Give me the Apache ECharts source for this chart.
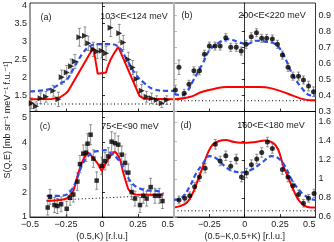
<!DOCTYPE html>
<html><head><meta charset="utf-8">
<script src="https://cdn.jsdelivr.net/npm/echarts@6/dist/echarts.min.js"></script>
<style>html,body{margin:0;padding:0;background:#fff}#c{width:334px;height:242px}</style>
</head><body><div id="c"></div>
<script>
// ---------- Panel (a): 103<E<124 meV ----------
const aK   = [-0.488,-0.458,-0.426,-0.389,-0.338,-0.303,-0.28,-0.245,-0.215,-0.188,-0.157,-0.118,-0.095,-0.06,-0.033,-0.002,0.028,0.06,0.12,0.148,0.183,0.213,0.24,0.276,0.31,0.345,0.38,0.415,0.45];
const aS   = [1.27,1.19,1.41,1.45,1.62,1.38,2.0,2.13,2.31,2.44,3.12,3.16,2.95,2.78,2.72,2.74,2.67,3.39,3.23,2.97,2.5,2.27,1.95,1.62,1.45,1.41,1.36,1.27,1.36];
const aErr = [0.15,0.12,0.15,0.15,0.15,0.2,0.2,0.2,0.2,0.2,0.25,0.25,0.2,0.2,0.2,0.2,0.2,0.25,0.25,0.2,0.2,0.2,0.2,0.18,0.15,0.15,0.12,0.12,0.12];
const aRedK = [-0.5,-0.35,-0.29,-0.25,-0.234,-0.06,-0.03,0.028,0.04,0.06,0.085,0.113,0.26,0.29,0.5];
const aRed  = [1.38,1.39,1.44,1.55,1.62,2.83,2.1,2.13,2.3,2.5,2.68,2.85,1.48,1.4,1.38];
const aBlueK = [-0.5,-0.4,-0.34,-0.28,-0.245,-0.19,-0.132,-0.088,-0.025,0.04,0.113,0.172,0.23,0.29,0.355,0.45,0.5];
const aBlue  = [1.6,1.64,1.7,1.85,1.92,2.3,2.68,2.86,2.93,2.93,2.86,2.5,2.1,1.85,1.67,1.62,1.62];
const aBgK = [-0.5,0.5];
const aBg  = [1.25,1.25];

// ---------- Panel (b): 200<E<220 meV ----------
const bK   = [-0.49,-0.465,-0.428,-0.394,-0.359,-0.32,-0.285,-0.25,-0.21,-0.174,-0.134,-0.099,-0.06,-0.025,0.009,0.046,0.083,0.12,0.155,0.195,0.231,0.266,0.306,0.34,0.38,0.415,0.451,0.486];
const bS   = [0.434,0.575,0.413,0.469,0.553,0.553,0.656,0.707,0.707,0.707,0.759,0.699,0.699,0.676,0.718,0.765,0.79,0.755,0.755,0.751,0.718,0.651,0.575,0.52,0.52,0.496,0.458,0.423];
const bErr = [0.03,0.045,0.025,0.025,0.025,0.025,0.025,0.025,0.025,0.025,0.025,0.025,0.025,0.025,0.025,0.025,0.025,0.025,0.025,0.025,0.025,0.025,0.025,0.025,0.025,0.025,0.03,0.03];
const bRedK = [-0.5,-0.39,-0.3,-0.2,-0.13,0.1,0.19,0.306,0.398,0.468,0.5];
const bRed  = [0.376,0.39,0.423,0.444,0.452,0.452,0.444,0.41,0.38,0.37,0.37];
const bBlueK = [-0.5,-0.45,-0.41,-0.366,-0.296,-0.25,-0.18,-0.11,-0.04,0.02,0.076,0.145,0.215,0.27,0.33,0.4,0.468,0.5];
const bBlue  = [0.41,0.4,0.42,0.49,0.6,0.68,0.73,0.75,0.73,0.72,0.74,0.735,0.72,0.66,0.545,0.45,0.4,0.4];
const bBgK = [-0.5,0.5];
const bBg  = [0.367,0.367];

// ---------- Panel (c): 75<E<90 meV ----------
const cK   = [-0.377,-0.361,-0.33,-0.31,-0.284,-0.245,-0.222,-0.199,-0.171,-0.153,-0.13,-0.111,-0.1,-0.079,-0.06,-0.037,-0.002,0.021,0.044,0.067,0.09,0.113,0.137,0.16,0.183,0.206,0.229,0.264,0.287,0.31,0.338,0.368,0.398,0.42];
const cS   = [1.38,1.81,1.48,1.44,1.51,1.33,1.77,1.9,2.42,3.12,3.54,3.58,3.94,4.3,3.34,2.46,3.05,3.24,3.43,4.02,3.96,3.9,3.5,3.17,2.78,2.0,1.74,1.48,1.85,1.74,2.2,1.85,1.85,1.64];
const cErr = [0.3,0.3,0.3,0.3,0.3,0.3,0.3,0.3,0.35,0.35,0.35,0.35,0.4,0.4,0.35,0.35,0.35,0.35,0.35,0.4,0.4,0.35,0.35,0.35,0.35,0.3,0.3,0.3,0.3,0.3,0.35,0.3,0.3,0.3];
const cRedK = [-0.384,-0.3,-0.245,-0.199,-0.164,-0.13,-0.095,-0.06,-0.025,-0.002,0.021,0.056,0.09,0.125,0.148,0.183,0.218,0.264,0.426];
const cRed  = [1.64,1.68,1.75,2.05,2.77,3.3,3.58,3.36,3.1,2.86,3.1,3.43,3.62,3.3,2.77,2.12,1.93,1.89,1.89];
const cBlueK = [-0.384,-0.303,-0.245,-0.21,-0.176,-0.141,-0.106,-0.06,-0.014,0.021,0.056,0.102,0.148,0.194,0.241,0.31,0.38,0.426];
const cBlue  = [1.85,1.85,1.9,2.1,2.5,3.05,3.38,3.6,3.65,3.68,3.58,3.38,3.0,2.46,2.2,2.07,2.05,1.93];
const cBgK = [-0.384,0.437];
const cBg  = [1.66,1.88];

// ---------- Panel (d): 160<E<180 meV ----------
const dK   = [-0.465,-0.424,-0.389,-0.354,-0.32,-0.28,-0.208,-0.174,-0.134,-0.099,-0.06,-0.023,0.012,0.047,0.085,0.12,0.16,0.195,0.266,0.306,0.34,0.38,0.415,0.451,0.49];
const dS   = [0.779,0.797,0.824,0.917,1.02,1.114,1.365,1.19,1.244,1.135,1.21,1.02,1.062,1.151,1.21,1.279,1.389,1.321,1.1,1.02,0.928,0.838,0.745,0.797,0.848];
const dErr = [0.04,0.04,0.04,0.045,0.045,0.05,0.05,0.05,0.05,0.05,0.05,0.05,0.05,0.05,0.05,0.05,0.05,0.05,0.05,0.05,0.045,0.045,0.04,0.04,0.045];
const dRedK = [-0.5,-0.458,-0.41,-0.366,-0.331,-0.296,-0.262,-0.227,-0.18,-0.134,-0.076,-0.007,0.074,0.143,0.2,0.236,0.27,0.306,0.34,0.375,0.421,0.468,0.5];
const dRed  = [0.7,0.715,0.75,0.855,0.99,1.13,1.27,1.36,1.4,1.41,1.39,1.38,1.39,1.405,1.38,1.31,1.15,1.02,0.9,0.79,0.72,0.7,0.7];
const dBlueK = [-0.5,-0.447,-0.389,-0.343,-0.296,-0.25,-0.204,-0.146,-0.088,-0.019,0.05,0.12,0.19,0.236,0.282,0.329,0.375,0.421,0.468,0.5];
const dBlue  = [0.78,0.8,0.92,1.06,1.16,1.24,1.22,1.14,1.085,1.07,1.1,1.17,1.24,1.22,1.14,1.0,0.9,0.83,0.79,0.78];
const dBgK = [-0.5,0.5];
const dBg  = [0.665,0.665];

// ---------- tick labels ----------
const xTicks   = [-0.25, 0, 0.25];
const cXLabels = [-0.5, -0.25, 0, 0.25, 0.5];
const dXLabels = [-0.25, 0, 0.25, 0.5];
const aYLabels = [1.5, 2, 2.5, 3, 3.5, 4];
const bYLabels = [0.3, 0.4, 0.5, 0.6, 0.7, 0.8, 0.9];
const cYLabels = [1, 2, 3, 4, 5];
const dYLabels = [0.6, 0.8, 1, 1.2, 1.4, 1.6];

const titles = ['103<E<124 meV', '200<E<220 meV', '75<E<90 meV', '160<E<180 meV'];
const letters = ['(a)', '(b)', '(c)', '(d)'];
const yTitle = 'S(Q,E) [mb sr\u207B\u00B9 meV\u207B\u00B9 f.u.\u207B\u00B9]';
const cXTitle = '(0.5,K) [r.l.u.]';
const dXTitle = '(0.5\u2212K,0.5+K) [r.l.u.]';

const FONT = '"Liberation Sans", Arial, "DejaVu Sans", sans-serif';
const zip = (k, v) => k.map((x, i) => [x, v[i]]);
const zip3 = (k, v, e) => k.map((x, i) => [x, v[i], e[i]]);
const fmt = v => String(+v.toFixed(2)).replace('-', '\u2212');

const grids = [
  {left: 30, top: 3, width: 144, height: 108.5},
  {left: 174, top: 3, width: 144, height: 108.5},
  {left: 30, top: 111.5, width: 144, height: 107.5},
  {left: 174, top: 111.5, width: 144, height: 107.5}
].map(g => Object.assign(g, {show: true, borderColor: '#000', borderWidth: 0.8, backgroundColor: 'transparent'}));

const tick = (vals, color) => ({show: true, inside: true, length: 3, customValues: vals, lineStyle: {color: color || '#000', width: 0.8}});
const lbl = (vals, extra) => Object.assign({show: true, customValues: vals, formatter: fmt, fontFamily: FONT, fontSize: 9, color: '#222', margin: 3}, extra || {});

const xAxis = [0, 1, 2, 3].map(i => {
  const ax = {type: 'value', gridIndex: i, min: -0.5, max: 0.5, splitLine: {show: false},
    axisLine: {show: true, lineStyle: {color: '#000', width: 0.8}}, axisTick: tick(xTicks), axisLabel: {show: false}};
  if (i === 2) {
    ax.axisLabel = lbl(cXLabels, {alignMaxLabel: 'right'});
    ax.name = cXTitle; ax.nameLocation = 'middle'; ax.nameGap = 15;
    ax.nameTextStyle = {fontFamily: FONT, fontSize: 9, color: '#222'};
  }
  if (i === 3) {
    ax.axisLabel = lbl(dXLabels, {alignMaxLabel: 'right'});
    ax.name = dXTitle; ax.nameLocation = 'middle'; ax.nameGap = 15;
    ax.nameTextStyle = {fontFamily: FONT, fontSize: 9, color: '#222'};
  }
  return ax;
});

const yDefs = [
  {min: 1.04, max: 4.08, labels: aYLabels, pos: 'left'},
  {min: 0.3, max: 0.975, labels: bYLabels, pos: 'right'},
  {min: 1, max: 5.23, labels: cYLabels, pos: 'left'},
  {min: 0.6, max: 1.71, labels: dYLabels, pos: 'right'}
];
const yAxis = yDefs.map((d, i) => ({type: 'value', gridIndex: i, min: d.min, max: d.max, position: d.pos,
  splitLine: {show: false}, axisLine: {show: true, lineStyle: {color: '#000', width: 0.8}},
  axisTick: tick(d.labels), axisLabel: lbl(d.labels)}));
// grey left edges of the right-hand panels
[1, 3].forEach(i => {
  yAxis.push({type: 'value', gridIndex: i, min: yDefs[i].min, max: yDefs[i].max, position: 'left', z: 5,
    splitLine: {show: false}, axisLine: {show: true, lineStyle: {color: '#b4b4b4', width: 2}},
    axisTick: tick(yDefs[i].labels, '#aaa'), axisLabel: {show: false}});
});

function errRender(params, api) {
  const x = api.value(0), y = api.value(1), e = api.value(2);
  const t = api.coord([x, y + e]), b = api.coord([x, y - e]);
  const w = 1.5, st = {stroke: '#666', lineWidth: 0.7};
  return {type: 'group', children: [
    {type: 'line', shape: {x1: t[0], y1: t[1], x2: b[0], y2: b[1]}, style: st},
    {type: 'line', shape: {x1: t[0] - w, y1: t[1], x2: t[0] + w, y2: t[1]}, style: st},
    {type: 'line', shape: {x1: b[0] - w, y1: b[1], x2: b[0] + w, y2: b[1]}, style: st}
  ]};
}

const panels = [
  {K: aK, S: aS, E: aErr, rK: aRedK, r: aRed, uK: aBlueK, u: aBlue, gK: aBgK, g: aBg, sym: 'triangle', rot: -90, size: 6, smooth: false},
  {K: bK, S: bS, E: bErr, rK: bRedK, r: bRed, uK: bBlueK, u: bBlue, gK: bBgK, g: bBg, sym: 'circle', rot: 0, size: 5, smooth: 0.4},
  {K: cK, S: cS, E: cErr, rK: cRedK, r: cRed, uK: cBlueK, u: cBlue, gK: cBgK, g: cBg, sym: 'rect', rot: 0, size: 4.5, smooth: 0.2},
  {K: dK, S: dS, E: dErr, rK: dRedK, r: dRed, uK: dBlueK, u: dBlue, gK: dBgK, g: dBg, sym: 'circle', rot: 0, size: 5, smooth: 0.4}
];

const series = [];
panels.forEach((p, i) => {
  const ax = {xAxisIndex: i, yAxisIndex: i};
  series.push(Object.assign({type: 'line', data: zip(p.gK, p.g), showSymbol: false, silent: true, z: 2,
    lineStyle: {color: '#000', width: 1, type: [1, 2.5]}}, ax));
  series.push(Object.assign({type: 'custom', renderItem: errRender, data: zip3(p.K, p.S, p.E), z: 3, silent: true}, ax));
  series.push(Object.assign({type: 'line', data: zip(p.rK, p.r), showSymbol: false, smooth: p.smooth, z: 4,
    lineStyle: {color: '#ff0000', width: 2}}, ax));
  series.push(Object.assign({type: 'line', data: zip(p.uK, p.u), showSymbol: false, smooth: 0.4, z: 5,
    lineStyle: {color: '#2e4fe6', width: 2.2, type: [5, 3]}}, ax));
  series.push(Object.assign({type: 'scatter', data: zip(p.K, p.S), symbol: p.sym, symbolRotate: p.rot,
    symbolSize: p.size, z: 6, itemStyle: {color: '#000'}}, ax));
});

const txt = (x, y, s, extra) => Object.assign({type: 'text', x: x, y: y,
  style: {text: s, fontFamily: FONT, fontSize: 9, fill: '#222', align: 'center', verticalAlign: 'middle'}}, extra || {});
const graphic = [
  txt(46, 18, letters[0]), txt(134, 17, titles[0]),
  txt(187, 15.5, letters[1]), txt(272, 15.5, titles[1]),
  txt(45, 127, letters[2]), txt(130, 127, titles[2]),
  txt(186, 126, letters[3]), txt(271, 126, titles[3]),
  txt(8, 120, yTitle, {rotation: Math.PI / 2})
];

const chart = echarts.init(document.getElementById('c'), null, {renderer: 'canvas'});
chart.setOption({animation: false, grid: grids, xAxis: xAxis, yAxis: yAxis, series: series, graphic: graphic});
</script></body></html>
